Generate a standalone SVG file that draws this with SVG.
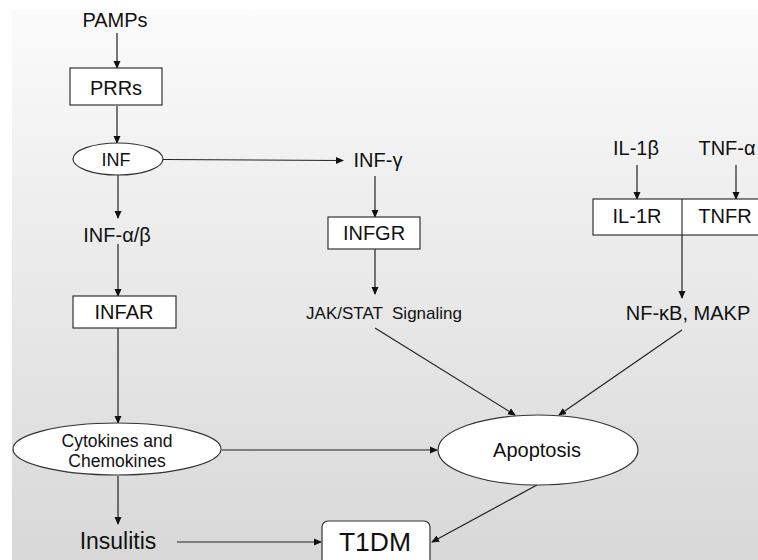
<svg xmlns="http://www.w3.org/2000/svg" width="758" height="560" viewBox="0 0 758 560">
<defs>
<linearGradient id="bg" x1="0" y1="0" x2="0" y2="1">
<stop offset="0" stop-color="#fbfbfb"/>
<stop offset="0.35" stop-color="#eeeeee"/>
<stop offset="1" stop-color="#d8d8d8"/>
</linearGradient>
<marker id="ah" markerWidth="8" markerHeight="8" refX="7" refY="4" orient="auto" markerUnits="userSpaceOnUse">
<path d="M0,0.5 L8,4 L0,7.5 Z" fill="#111"/>
</marker>
<style>
.t{font-family:"Liberation Sans",Arial,sans-serif;fill:#111;text-anchor:middle;font-size:20px}
.n{fill:#fff;stroke:#333;stroke-width:1.2}
.c{stroke:#222;stroke-width:1.2;fill:none;marker-end:url(#ah)}
</style>
</defs>
<rect x="0" y="0" width="758" height="560" fill="#fff"/>
<rect x="12" y="10" width="746" height="550" fill="url(#bg)"/>
<g id="connectors">
<line class="c" x1="117" y1="33" x2="117" y2="68"/>
<line class="c" x1="117" y1="106" x2="117" y2="143"/>
<line class="c" x1="163" y1="159.5" x2="343" y2="160.5"/>
<line class="c" x1="375" y1="176" x2="375" y2="217"/>
<line class="c" x1="375" y1="249" x2="375" y2="294"/>
<line class="c" x1="118" y1="175" x2="118" y2="218"/>
<line class="c" x1="118" y1="244" x2="118" y2="296"/>
<line class="c" x1="118" y1="328" x2="118" y2="423"/>
<line class="c" x1="118" y1="476" x2="118" y2="524"/>
<line class="c" x1="637" y1="165" x2="637" y2="199"/>
<line class="c" x1="736" y1="165" x2="736" y2="199"/>
<line class="c" x1="682" y1="235" x2="682" y2="298"/>
<line class="c" x1="375" y1="328" x2="515" y2="415"/>
<line class="c" x1="682" y1="330" x2="559" y2="415"/>
<line class="c" x1="222" y1="450" x2="437" y2="450"/>
<line class="c" x1="537" y1="485" x2="432" y2="542"/>
<line class="c" x1="177" y1="542" x2="321" y2="542"/>
</g>
<g id="pamps"><text class="t" x="115" y="27">PAMPs</text></g>
<g id="prrs"><rect class="n" x="70" y="68" width="92" height="37"/><text class="t" x="116" y="95">PRRs</text></g>
<g id="inf"><ellipse class="n" cx="118" cy="159" rx="45" ry="16"/><text class="t" x="116" y="166" style="font-size:18px">INF</text></g>
<g id="inf-gamma"><text class="t" x="378" y="167">INF-γ</text></g>
<g id="infgr"><rect class="n" x="328" y="217" width="92" height="32"/><text class="t" x="374" y="240">INFGR</text></g>
<g id="jakstat"><text class="t" x="384" y="319" style="font-size:17px" xml:space="preserve">JAK/STAT  Signaling</text></g>
<g id="inf-ab"><text class="t" x="117" y="242">INF-α/β</text></g>
<g id="infar"><rect class="n" x="73" y="296" width="103" height="32"/><text class="t" x="124" y="319">INFAR</text></g>
<g id="cytokines"><ellipse class="n" cx="117" cy="449" rx="104" ry="26"/><text class="t" x="117" y="447" style="font-size:17.5px">Cytokines and</text><text class="t" x="117" y="467" style="font-size:17.5px">Chemokines</text></g>
<g id="il1b"><text class="t" x="636" y="155">IL-1β</text></g>
<g id="tnfa"><text class="t" x="727" y="155">TNF-α</text></g>
<g id="receptors"><rect class="n" x="593" y="199" width="175" height="36"/><line x1="682" y1="199" x2="682" y2="235" stroke="#333" stroke-width="1.2"/><text class="t" x="637" y="223">IL-1R</text><text class="t" x="725" y="223">TNFR</text></g>
<g id="nfkb"><text class="t" x="688" y="320">NF-κB, MAKP</text></g>
<g id="apoptosis"><ellipse class="n" cx="538" cy="450" rx="100" ry="35"/><text class="t" x="537" y="457">Apoptosis</text></g>
<g id="insulitis"><text class="t" x="118" y="549" style="font-size:23px">Insulitis</text></g>
<g id="t1dm"><rect class="n" x="322" y="521" width="108" height="50" rx="6"/><text class="t" x="375" y="551" style="font-size:26.5px">T1DM</text></g>
</svg>
